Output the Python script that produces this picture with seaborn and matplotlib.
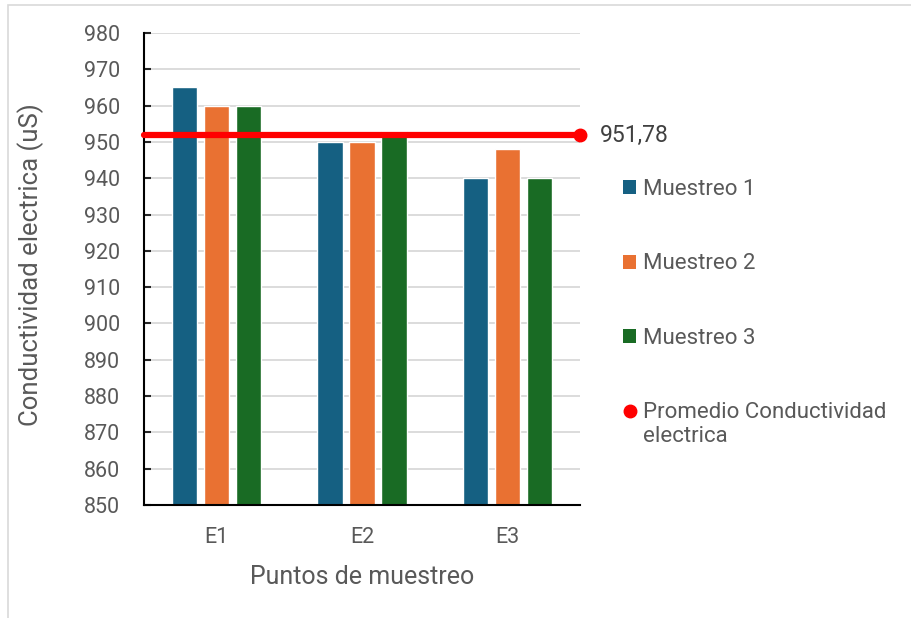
import numpy as np
import pandas as pd
import matplotlib as mpl
import matplotlib.pyplot as plt
import seaborn as sns
from matplotlib.patches import Patch, Rectangle
from matplotlib.lines import Line2D

mpl.use('Agg')

puntos = ["E1", "E2", "E3"]
series = ["Muestreo 1", "Muestreo 2", "Muestreo 3"]
muestreo_1 = [965, 950, 940]
muestreo_2 = [960, 950, 948]
muestreo_3 = [960, 953, 940]
colores = ["#156082", "#E97132", "#196B24"]
y_ticks = list(range(850, 990, 10))

sns.set_style("white")
plt.rcParams['font.family'] = ['Roboto', 'DejaVu Sans']
gris = "#595959"

df = pd.DataFrame({
    'punto': puntos * 3,
    'valor': muestreo_1 + muestreo_2 + muestreo_3,
    'muestreo': [s for s in series for _ in puntos],
})
promedio = df['valor'].mean()

fig = plt.figure(figsize=(9.11, 6.18), dpi=100)
ax = fig.add_axes([144 / 911, 1 - 505 / 618, 436 / 911, 472 / 618])

sns.barplot(data=df, x='punto', y='valor', hue='muestreo', palette=colores,
            width=0.66, gap=0.2, ax=ax, legend=False, saturation=1, zorder=2)

# average line, marker only at the end
ax.plot([-0.5, 2.5], [promedio, promedio], color="#FF0000", lw=4.5,
        marker='o', markersize=9, markevery=[1], zorder=4, clip_on=False)
ax.annotate("{:.2f}".format(promedio).replace('.', ','), xy=(2.5, promedio),
            xytext=(14, 0), textcoords='offset points', va='center',
            ha='left', fontsize=16.5, color="#404040", annotation_clip=False)

ax.set_xlim(-0.5, 2.5)
ax.set_ylim(850, 980)
ax.set_yticks(y_ticks)
ax.yaxis.grid(True, color="#D9D9D9", lw=1.3, zorder=0)
ax.set_axisbelow(True)
for s in ['top', 'right']:
    ax.spines[s].set_visible(False)
for s in ['left', 'bottom']:
    ax.spines[s].set_color('black')
    ax.spines[s].set_linewidth(1.5)
ax.tick_params(axis='y', direction='in', length=5, width=1.5, pad=17,
               labelsize=15.5, labelcolor=gris, left=True)
ax.tick_params(axis='x', length=0, pad=16, labelsize=15.5, labelcolor=gris)
ax.set_xlabel("Puntos de muestreo", fontsize=18, color=gris, labelpad=12)
ax.set_ylabel("Conductividad electrica (uS)", fontsize=18.5, color=gris)
ax.yaxis.set_label_coords(-0.229, 0.51)

handles = [Patch(facecolor=c, edgecolor='none') for c in colores]
handles.append(Line2D([], [], color='none', marker='o', markerfacecolor="#FF0000",
                      markeredgecolor="#FF0000", markersize=9))
labels = series + ["Promedio Conductividad\nelectrica"]
leg = fig.legend(handles, labels, loc='upper left', bbox_to_anchor=(612 / 911, 1 - 168 / 618),
                 frameon=False, fontsize=16, labelcolor=gris, labelspacing=2.4,
                 handlelength=0.6, handleheight=0.6, handletextpad=0.3, borderpad=0)
# put the red marker next to the first line of the wrapped label
marca = leg.legend_handles[3]
marca.set_ydata(np.asarray(marca.get_ydata()) + 10)

fig.patches.append(Rectangle((8 / 911, -0.1), 1.1, 1.1 - 5 / 618,
                             transform=fig.transFigure, fill=False,
                             edgecolor="#D9D9D9", lw=1.2))

fig.savefig('out.png', dpi=100)
